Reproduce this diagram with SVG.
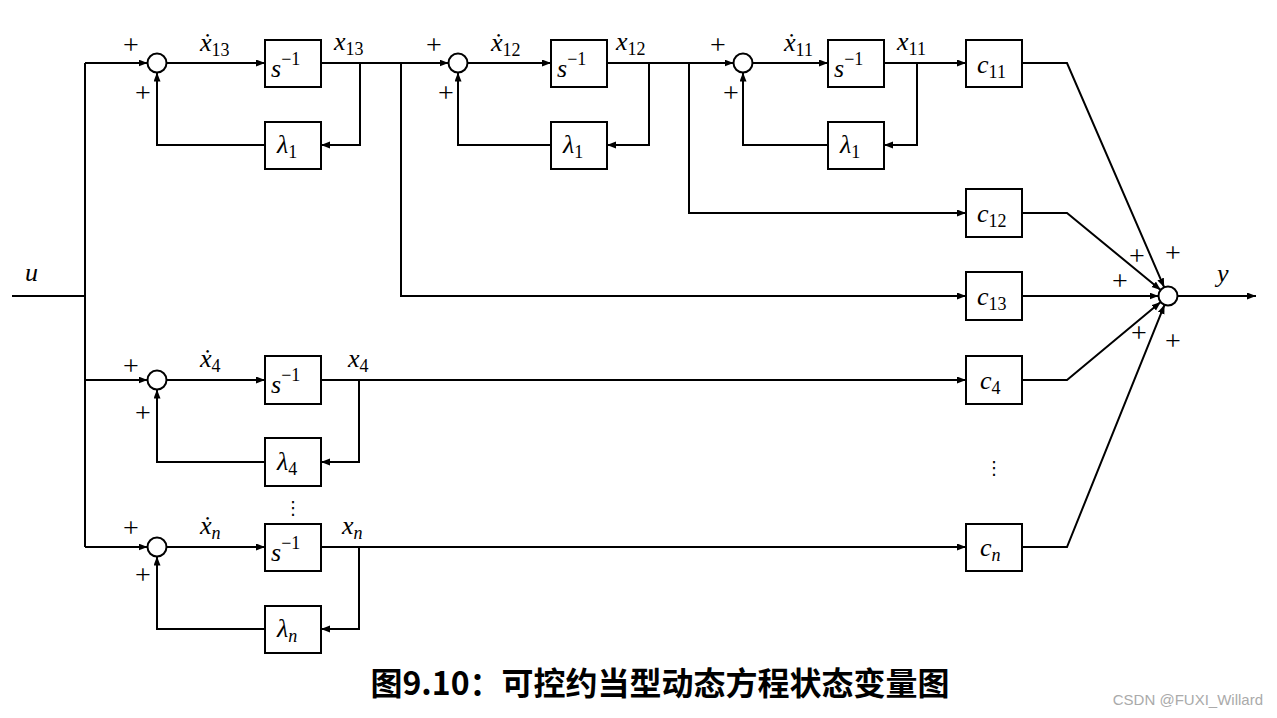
<svg xmlns="http://www.w3.org/2000/svg" width="1277" height="718" viewBox="0 0 1277 718">
<style>
.ln{fill:none;stroke:#000;stroke-width:2}
.bx{fill:#fff;stroke:#000;stroke-width:2}
.sj{fill:#fff;stroke:#000;stroke-width:2}
.m{font-family:"Liberation Serif","DejaVu Serif",serif;font-size:26px;font-style:italic;fill:#000}
.sb{font-style:normal;font-size:18px}
.si{font-style:italic;font-size:18px}
.pl{font-family:"Liberation Serif","DejaVu Serif",serif;font-size:28px;fill:#000;text-anchor:middle}
.dt{font-family:"DejaVu Sans",sans-serif;font-size:18px;fill:#000;text-anchor:middle}
.ti{font-family:"Noto Sans CJK SC","Noto Sans CJK TC",sans-serif;font-size:32px;font-weight:bold;fill:#000;text-anchor:middle}
.wm{font-family:"Liberation Sans",sans-serif;font-size:15px;fill:#aaa;text-anchor:end}
</style>
<defs>
<marker id="ar" markerUnits="userSpaceOnUse" markerWidth="10" markerHeight="8" refX="9" refY="3.5" orient="auto">
<path d="M0,0 L9,3.5 L0,7 z" fill="#000"/>
</marker>
</defs>
<rect width="1277" height="718" fill="#fff"/>

<g id="connectors">
<path class="ln" d="M12,296 H85"/>
<path class="ln" d="M85,63 V547"/>
<path class="ln" d="M85,63 H147.5" marker-end="url(#ar)"/>
<path class="ln" d="M85,380 H147.5" marker-end="url(#ar)"/>
<path class="ln" d="M85,547 H147.5" marker-end="url(#ar)"/>
<path class="ln" d="M166.5,63 H265" marker-end="url(#ar)"/>
<path class="ln" d="M321,63 H448.5" marker-end="url(#ar)"/>
<path class="ln" d="M360,63 V145 H321" marker-end="url(#ar)"/>
<path class="ln" d="M265,145 H157 V72.5" marker-end="url(#ar)"/>
<path class="ln" d="M401,63 V296 H966" marker-end="url(#ar)"/>
<path class="ln" d="M467.5,63 H551" marker-end="url(#ar)"/>
<path class="ln" d="M607,63 H733.5" marker-end="url(#ar)"/>
<path class="ln" d="M649,63 V145 H607" marker-end="url(#ar)"/>
<path class="ln" d="M551,145 H458 V72.5" marker-end="url(#ar)"/>
<path class="ln" d="M689,63 V213 H966" marker-end="url(#ar)"/>
<path class="ln" d="M752.5,63 H828" marker-end="url(#ar)"/>
<path class="ln" d="M884,63 H966" marker-end="url(#ar)"/>
<path class="ln" d="M917,63 V145 H884" marker-end="url(#ar)"/>
<path class="ln" d="M828,145 H743 V72.5" marker-end="url(#ar)"/>
<path class="ln" d="M166.5,380 H265" marker-end="url(#ar)"/>
<path class="ln" d="M321,380 H966" marker-end="url(#ar)"/>
<path class="ln" d="M359,380 V462 H321" marker-end="url(#ar)"/>
<path class="ln" d="M265,462 H157 V389.5" marker-end="url(#ar)"/>
<path class="ln" d="M166.5,547 H265" marker-end="url(#ar)"/>
<path class="ln" d="M321,547 H966" marker-end="url(#ar)"/>
<path class="ln" d="M359,547 V629 H321" marker-end="url(#ar)"/>
<path class="ln" d="M265,629 H157 V556.5" marker-end="url(#ar)"/>
<path class="ln" d="M1022,63 H1067 L1164.2,287.3" marker-end="url(#ar)"/>
<path class="ln" d="M1022,213 H1067 L1160.7,290" marker-end="url(#ar)"/>
<path class="ln" d="M1022,296 H1158.5" marker-end="url(#ar)"/>
<path class="ln" d="M1022,380 H1067 L1160.7,302.1" marker-end="url(#ar)"/>
<path class="ln" d="M1022,547 H1067 L1164.5,304.8" marker-end="url(#ar)"/>
<path class="ln" d="M1177.5,296 H1256" marker-end="url(#ar)"/>
</g>

<g id="sum13"><circle class="sj" cx="157" cy="63" r="9.5"/><text class="pl" x="131" y="54">+</text><text class="pl" x="143" y="102">+</text></g>
<g id="int13"><rect class="bx" x="265" y="40" width="56" height="47"/><text class="m" x="271" y="77">s<tspan class="sb" dy="-12">−1</tspan></text></g>
<g id="lam13"><rect class="bx" x="265" y="122" width="56" height="47"/><text class="m" x="277" y="153">λ<tspan class="sb" dy="5">1</tspan></text></g>
<text class="m" x="200" y="51">ẋ<tspan class="sb" dy="5">13</tspan></text>
<text class="m" x="334" y="50">x<tspan class="sb" dy="5">13</tspan></text>

<g id="sum12"><circle class="sj" cx="458" cy="63" r="9.5"/><text class="pl" x="434" y="54">+</text><text class="pl" x="446" y="102">+</text></g>
<g id="int12"><rect class="bx" x="551" y="40" width="56" height="47"/><text class="m" x="557" y="77">s<tspan class="sb" dy="-12">−1</tspan></text></g>
<g id="lam12"><rect class="bx" x="551" y="122" width="56" height="47"/><text class="m" x="563" y="153">λ<tspan class="sb" dy="5">1</tspan></text></g>
<text class="m" x="491" y="51">ẋ<tspan class="sb" dy="5">12</tspan></text>
<text class="m" x="616" y="50">x<tspan class="sb" dy="5">12</tspan></text>

<g id="sum11"><circle class="sj" cx="743" cy="63" r="9.5"/><text class="pl" x="718" y="54">+</text><text class="pl" x="731" y="102">+</text></g>
<g id="int11"><rect class="bx" x="828" y="40" width="56" height="47"/><text class="m" x="834" y="77">s<tspan class="sb" dy="-12">−1</tspan></text></g>
<g id="lam11"><rect class="bx" x="828" y="122" width="56" height="47"/><text class="m" x="840" y="153">λ<tspan class="sb" dy="5">1</tspan></text></g>
<text class="m" x="784" y="51">ẋ<tspan class="sb" dy="5">11</tspan></text>
<text class="m" x="897" y="50">x<tspan class="sb" dy="5">11</tspan></text>

<g id="sum4"><circle class="sj" cx="157" cy="380" r="9.5"/><text class="pl" x="131" y="375">+</text><text class="pl" x="143" y="422">+</text></g>
<g id="int4"><rect class="bx" x="265" y="356" width="56" height="48"/><text class="m" x="271" y="393">s<tspan class="sb" dy="-12">−1</tspan></text></g>
<g id="lam4"><rect class="bx" x="265" y="438" width="56" height="48"/><text class="m" x="277" y="470">λ<tspan class="sb" dy="5">4</tspan></text></g>
<text class="m" x="200" y="367">ẋ<tspan class="sb" dy="5">4</tspan></text>
<text class="m" x="348" y="367">x<tspan class="sb" dy="5">4</tspan></text>
<text class="dt" x="293" y="514">⋮</text>

<g id="sumn"><circle class="sj" cx="157" cy="547" r="9.5"/><text class="pl" x="131" y="537">+</text><text class="pl" x="143" y="584">+</text></g>
<g id="intn"><rect class="bx" x="265" y="524" width="56" height="47"/><text class="m" x="271" y="561">s<tspan class="sb" dy="-12">−1</tspan></text></g>
<g id="lamn"><rect class="bx" x="265" y="606" width="56" height="47"/><text class="m" x="277" y="637">λ<tspan class="si" dy="5">n</tspan></text></g>
<text class="m" x="200" y="534">ẋ<tspan class="si" dy="5">n</tspan></text>
<text class="m" x="342" y="534">x<tspan class="si" dy="5">n</tspan></text>

<g id="c11"><rect class="bx" x="966" y="40" width="56" height="47"/><text class="m" x="977" y="73">c<tspan class="sb" dy="5">11</tspan></text></g>
<g id="c12"><rect class="bx" x="966" y="189" width="56" height="48"/><text class="m" x="977" y="222">c<tspan class="sb" dy="5">12</tspan></text></g>
<g id="c13"><rect class="bx" x="966" y="272" width="56" height="48"/><text class="m" x="977" y="305">c<tspan class="sb" dy="5">13</tspan></text></g>
<g id="c4"><rect class="bx" x="966" y="356" width="56" height="48"/><text class="m" x="980" y="389">c<tspan class="sb" dy="5">4</tspan></text></g>
<g id="cn"><rect class="bx" x="966" y="524" width="56" height="47"/><text class="m" x="980" y="556">c<tspan class="si" dy="5">n</tspan></text></g>
<text class="dt" x="994" y="474">⋮</text>

<g id="sumy"><circle class="sj" cx="1168" cy="296" r="9.5"/>
<text class="pl" x="1137" y="265">+</text><text class="pl" x="1173" y="262">+</text><text class="pl" x="1120" y="290">+</text><text class="pl" x="1139" y="342">+</text><text class="pl" x="1173" y="350">+</text></g>

<text class="m" x="25" y="281">u</text>
<text class="m" x="1217" y="282">y</text>

<text class="ti" x="660" y="695">图9.10：可控约当型动态方程状态变量图</text>
<text class="wm" x="1263" y="705">CSDN @FUXI_Willard</text>
</svg>
